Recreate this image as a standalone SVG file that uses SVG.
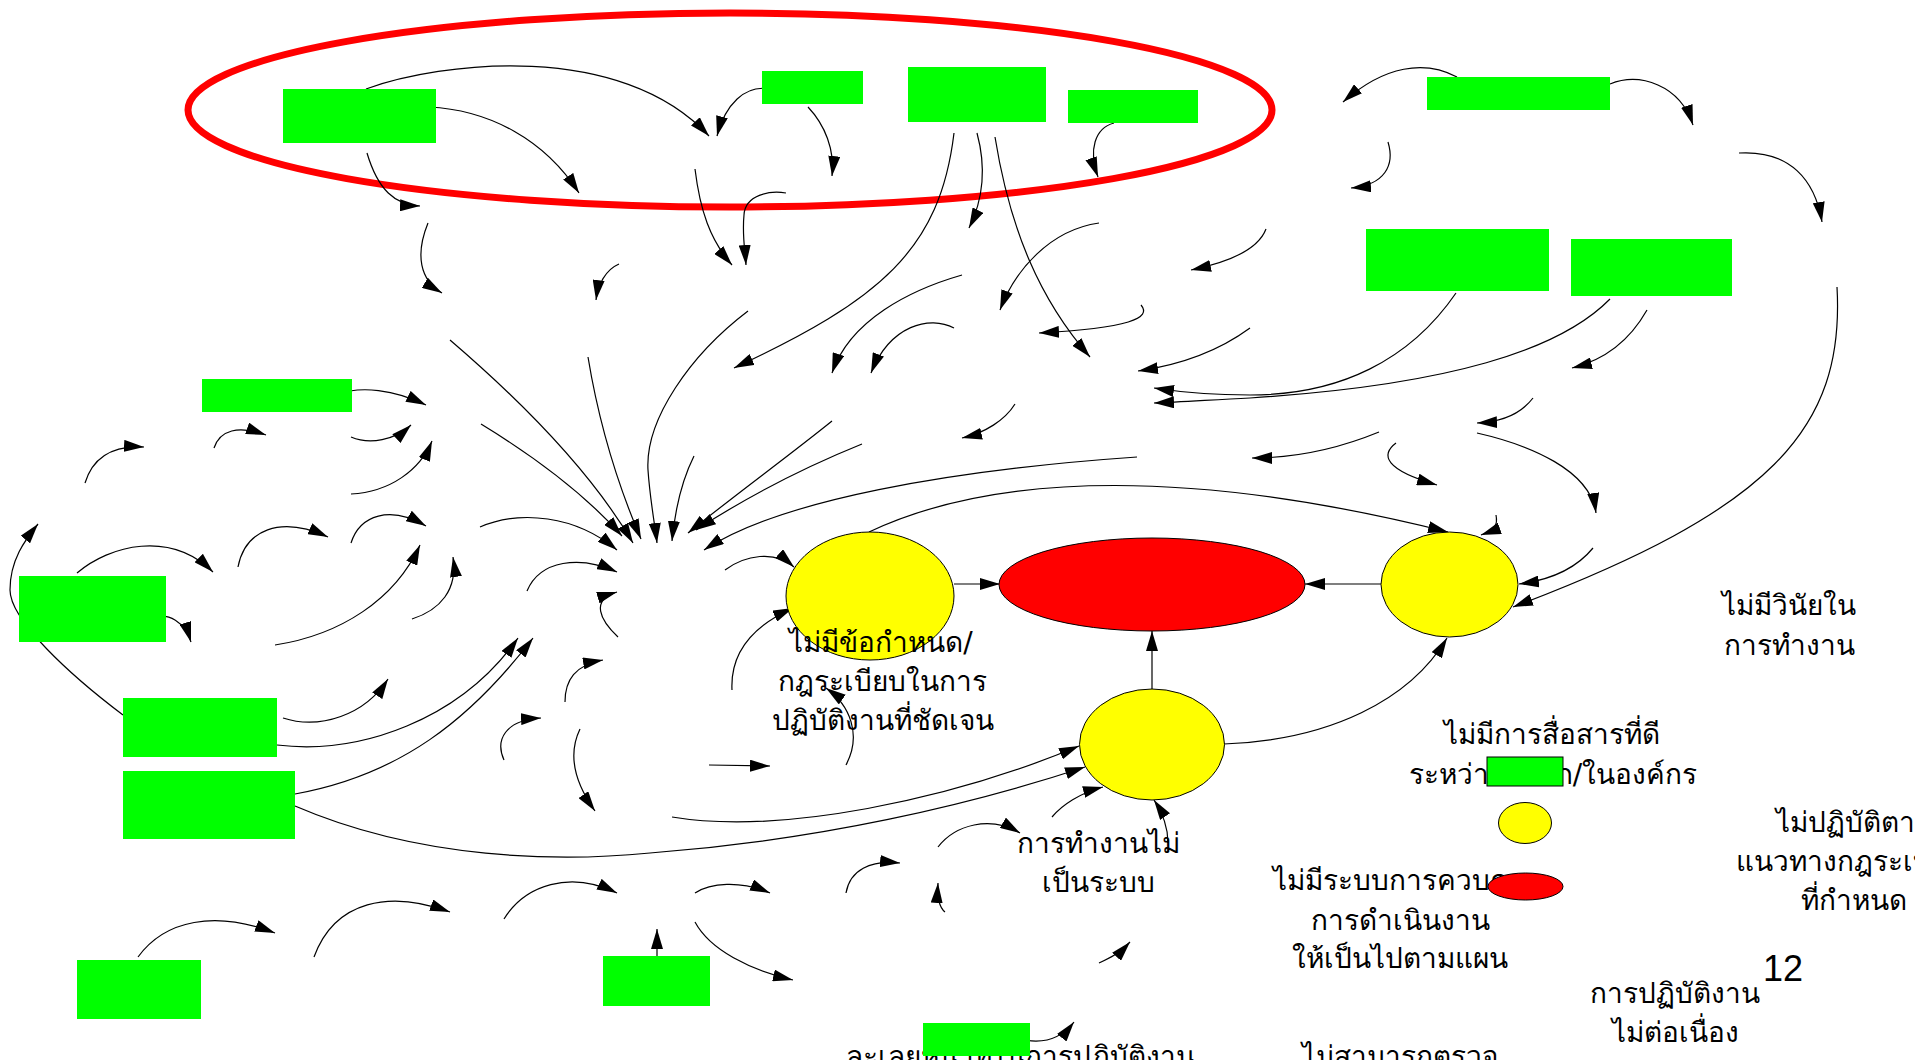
<svg xmlns="http://www.w3.org/2000/svg" width="1915" height="1060" viewBox="0 0 1915 1060">
<defs>
<marker id="ah" markerUnits="userSpaceOnUse" markerWidth="20" markerHeight="12" refX="20" refY="6" orient="auto">
<path d="M0,0 L20,6 L0,12 z" fill="#000"/>
</marker>
<style>
.c{fill:none;stroke:#000;stroke-width:1.2;marker-end:url(#ah)}
.g{fill:#00ff00;stroke:none}
.y{fill:#ffff00;stroke:#000;stroke-width:1}
.r{fill:#ff0000;stroke:#000;stroke-width:1}
.t{font-family:"DejaVu Sans",sans-serif;font-size:28px;fill:#000;text-anchor:middle}
.ts{font-family:"DejaVu Sans",sans-serif;font-size:28px;fill:#000;text-anchor:start}
</style>
</defs>
<rect width="1915" height="1060" fill="#fff"/>
<ellipse id="group-outline" cx="730" cy="110" rx="542" ry="97" fill="none" stroke="#ff0000" stroke-width="7"/>
<g id="connectors">
<path class="c" d="M366,89 C440,62 620,40 709,136"/>
<path class="c" d="M429,107 C490,110 545,140 579,193"/>
<path class="c" d="M367,153 C378,190 395,205 420,206"/>
<path class="c" d="M428,223 C415,255 420,280 442,293"/>
<path class="c" d="M619,264 C605,270 598,285 596,300"/>
<path class="c" d="M450,340 C520,400 590,470 633,543"/>
<path class="c" d="M481,424 C540,460 590,500 622,536"/>
<path class="c" d="M588,357 C600,430 620,490 641,539"/>
<path class="c" d="M748,311 C690,355 645,420 648,470 C650,500 655,525 657,543"/>
<path class="c" d="M694,456 C682,480 675,510 672,541"/>
<path class="c" d="M832,421 C790,455 735,495 688,533"/>
<path class="c" d="M862,444 C810,465 750,495 696,530"/>
<path class="c" d="M1137,457 C950,470 780,500 704,550"/>
<path class="c" d="M1015,404 C1005,420 985,433 962,438"/>
<path class="c" d="M725,570 C745,555 775,550 794,567"/>
<path class="c" d="M732,690 C730,650 755,625 793,608"/>
<path class="c" d="M846,765 C862,735 850,705 826,688"/>
<path class="c" d="M709,765 L770,766"/>
<path class="c" d="M337,395 C360,385 395,390 426,405"/>
<path class="c" d="M351,437 C370,445 395,440 411,425"/>
<path class="c" d="M351,494 C390,492 420,470 432,441"/>
<path class="c" d="M351,543 C360,515 390,505 426,526"/>
<path class="c" d="M480,527 C520,510 575,515 617,550"/>
<path class="c" d="M275,645 C340,635 395,600 420,545"/>
<path class="c" d="M412,619 C440,610 458,590 453,557"/>
<path class="c" d="M527,591 C540,560 580,555 617,572"/>
<path class="c" d="M618,637 C600,620 590,600 617,592"/>
<path class="c" d="M565,702 C565,680 575,665 603,660"/>
<path class="c" d="M504,760 C495,740 505,720 541,718"/>
<path class="c" d="M580,729 C565,760 580,790 595,811"/>
<path class="c" d="M277,745 C360,755 460,720 518,638"/>
<path class="c" d="M295,794 C400,775 470,720 533,638"/>
<path class="c" d="M123,715 C70,675 10,620 10,590 C10,560 25,540 38,524"/>
<path class="c" d="M295,806 C420,860 560,862 650,853 C820,840 970,805 1085,767"/>
<path class="c" d="M672,817 C780,835 950,800 1079,746"/>
<path class="c" d="M869,532 C1000,470 1200,470 1448,532"/>
<path class="c" d="M1224,744 C1330,740 1410,700 1447,638"/>
<path class="c" d="M954,584 L1000,584"/>
<path class="c" d="M1381,584 L1305,584"/>
<path class="c" d="M1152,689 L1152,631"/>
<path class="c" d="M1052,817 C1062,805 1080,793 1103,787"/>
<path class="c" d="M1168,843 C1168,828 1162,812 1154,800"/>
<path class="c" d="M938,847 C955,825 990,815 1020,833"/>
<path class="c" d="M846,893 C850,870 870,860 900,863"/>
<path class="c" d="M945,912 C940,908 937,898 938,883"/>
<path class="c" d="M695,893 C710,883 740,880 770,893"/>
<path class="c" d="M695,922 C710,950 750,970 793,980"/>
<path class="c" d="M657,956 L657,929"/>
<path class="c" d="M1099,963 C1110,958 1120,953 1130,942"/>
<path class="c" d="M1016,1038 C1040,1045 1060,1040 1074,1022"/>
<path class="c" d="M138,957 C165,920 215,910 275,933"/>
<path class="c" d="M314,957 C335,900 390,890 450,912"/>
<path class="c" d="M504,919 C525,885 570,870 617,893"/>
<path class="c" d="M85,483 C92,460 110,445 144,447"/>
<path class="c" d="M214,448 C220,430 238,425 266,435"/>
<path class="c" d="M77,573 C110,545 170,530 213,572"/>
<path class="c" d="M238,567 C245,530 280,515 328,537"/>
<path class="c" d="M153,618 C168,612 185,622 191,642"/>
<path class="c" d="M283,718 C320,730 365,715 388,679"/>
<path class="c" d="M770,89 C745,84 725,105 717,136"/>
<path class="c" d="M808,107 C825,125 835,150 832,176"/>
<path class="c" d="M695,169 C700,210 710,240 732,265"/>
<path class="c" d="M786,193 C770,190 745,195 744,215 C742,235 745,250 746,265"/>
<path class="c" d="M954,133 C940,250 880,300 734,368"/>
<path class="c" d="M977,133 C987,170 983,200 969,228"/>
<path class="c" d="M995,137 C1010,230 1040,300 1090,357"/>
<path class="c" d="M1114,123 C1095,128 1088,150 1098,177"/>
<path class="c" d="M962,275 C910,290 850,320 832,373"/>
<path class="c" d="M954,328 C930,315 890,325 871,373"/>
<path class="c" d="M1099,223 C1050,230 1015,270 1000,310"/>
<path class="c" d="M1141,305 C1152,318 1130,328 1039,333"/>
<path class="c" d="M1266,229 C1258,250 1230,262 1191,270"/>
<path class="c" d="M1250,328 C1220,350 1180,365 1138,371"/>
<path class="c" d="M1456,293 C1410,360 1340,395 1250,395 C1210,395 1180,392 1154,388"/>
<path class="c" d="M1610,299 C1560,350 1450,385 1250,398 C1210,400 1180,402 1154,403"/>
<path class="c" d="M1457,77 C1425,60 1385,65 1343,102"/>
<path class="c" d="M1610,84 C1640,72 1680,85 1693,125"/>
<path class="c" d="M1388,142 C1395,165 1385,185 1351,188"/>
<path class="c" d="M1739,153 C1790,150 1815,180 1822,222"/>
<path class="c" d="M1837,287 C1845,430 1770,510 1513,607"/>
<path class="c" d="M1647,310 C1630,340 1605,360 1572,368"/>
<path class="c" d="M1533,398 C1520,415 1500,422 1477,423"/>
<path class="c" d="M1379,432 C1340,448 1300,458 1252,458"/>
<path class="c" d="M1396,443 C1380,455 1385,470 1437,485"/>
<path class="c" d="M1477,433 C1530,445 1590,470 1596,513"/>
<path class="c" d="M1496,515 C1498,525 1495,530 1481,535"/>
<path class="c" d="M1593,548 C1575,570 1550,580 1519,584"/>
</g>
<g id="box1"><rect class="g" x="283" y="89" width="153" height="54"/></g>
<g id="box2"><rect class="g" x="762" y="71" width="101" height="33"/></g>
<g id="box3"><rect class="g" x="908" y="67" width="138" height="55"/></g>
<g id="box4"><rect class="g" x="1068" y="90" width="130" height="33"/></g>
<g id="box5"><rect class="g" x="1427" y="77" width="183" height="33"/></g>
<g id="box6"><rect class="g" x="1366" y="229" width="183" height="62"/></g>
<g id="box7"><rect class="g" x="1571" y="239" width="161" height="57"/></g>
<g id="box8"><rect class="g" x="202" y="379" width="150" height="33"/></g>
<g id="box9"><rect class="g" x="19" y="576" width="147" height="66"/></g>
<g id="box10"><rect class="g" x="123" y="698" width="154" height="59"/></g>
<g id="box11"><rect class="g" x="123" y="771" width="172" height="68"/></g>
<g id="box12"><rect class="g" x="77" y="960" width="124" height="59"/></g>
<g id="box13"><rect class="g" x="603" y="956" width="107" height="50"/></g>
<g id="node-a">
<ellipse class="y" cx="870" cy="596" rx="84" ry="64"/>
<text class="t" x="881" y="652">ไม่มีข้อกำหนด/</text>
<text class="t" x="882" y="691">กฎระเบียบในการ</text>
<text class="t" x="883" y="730">ปฏิบัติงานที่ชัดเจน</text>
</g>
<g id="node-red"><ellipse class="r" cx="1152" cy="584.5" rx="153" ry="46.5"/></g>
<g id="node-b">
<ellipse class="y" cx="1152" cy="744.5" rx="72.5" ry="55.5"/>
<text class="t" x="1098" y="853">การทำงานไม่</text>
<text class="t" x="1098" y="892">เป็นระบบ</text>
</g>
<g id="node-c"><ellipse class="y" cx="1449.5" cy="584.5" rx="68.5" ry="52.5"/></g>
<g id="labels">
<text class="t" x="1789" y="615">ไม่มีวินัยใน</text>
<text class="t" x="1789" y="655">การทำงาน</text>
<text class="t" x="1552" y="744">ไม่มีการสื่อสารที่ดี</text>
<text class="t" x="1553" y="784">ระหว่างแผนก/ในองค์กร</text>
<text class="ts" x="1776" y="832">ไม่ปฏิบัติตาม</text>
<text class="ts" x="1736" y="871">แนวทางกฎระเบียบ</text>
<text class="ts" x="1801" y="910">ที่กำหนด</text>
<text class="t" x="1400" y="890">ไม่มีระบบการควบคุม</text>
<text class="t" x="1400" y="930">การดำเนินงาน</text>
<text class="t" x="1400" y="968">ให้เป็นไปตามแผน</text>
<text x="1763" y="981" style="font-family:'Liberation Sans',Arial,sans-serif;font-size:36px;fill:#000">12</text>
<text class="t" x="1675" y="1003">การปฏิบัติงาน</text>
<text class="t" x="1675" y="1042">ไม่ต่อเนื่อง</text>
<text class="t" x="1400" y="1066">ไม่สามารถตรวจ</text>
<text class="t" x="1020" y="1066">ละเลยหน้าที่ในการปฏิบัติงาน</text>
</g>
<g id="box14"><rect class="g" x="923" y="1023" width="107" height="33"/></g>
<g id="legend">
<rect x="1487" y="757" width="76" height="29" fill="#00ff00" stroke="#000" stroke-width="1"/>
<ellipse class="y" cx="1525" cy="823" rx="26.5" ry="20.5"/>
<ellipse class="r" cx="1525.5" cy="886.5" rx="37.5" ry="13.5"/>
</g>
</svg>
